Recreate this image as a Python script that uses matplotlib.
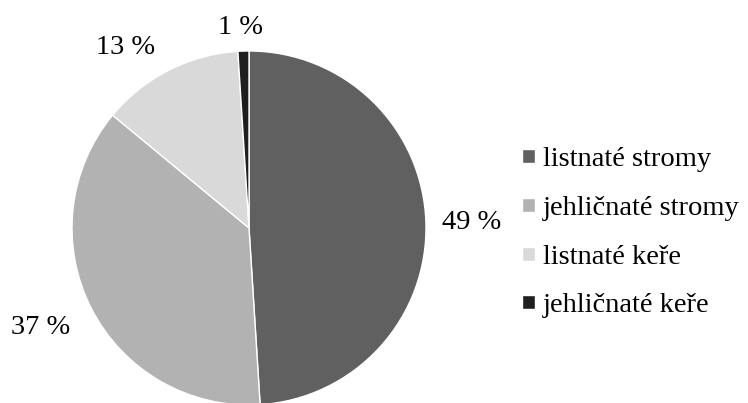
import matplotlib.pyplot as plt

plt.rcParams['font.family'] = ['Liberation Serif', 'DejaVu Serif']

# data
kategorie = ['listnaté stromy', 'jehličnaté stromy', 'listnaté keře', 'jehličnaté keře']
podil = [49, 37, 13, 1]
barvy = ['#606060', '#b2b2b2', '#d9d9d9', '#1f1f1f']
# umístění popisků (v jednotkách poloměru, jako v Excelu "nejlepší přizpůsobení")
pozice_popisku = [(1.26, 0.03), (-1.18, -0.56), (-0.70, 1.02), (-0.05, 1.13)]

fig = plt.figure(figsize=(7.48, 4.03), dpi=100)
R = 177  # poloměr koláče v px
cx, cy = 249, 403 - 228
ax = fig.add_axes([(cx - 1.25 * R) / 748, (cy - 1.25 * R) / 403, 2.5 * R / 748, 2.5 * R / 403])

wedges, texts, autotexts = ax.pie(
    podil, colors=barvy, startangle=90, counterclock=False,
    autopct='%d %%', pctdistance=1.25,
    wedgeprops=dict(edgecolor='white', linewidth=1),
    textprops=dict(fontsize=20.5, color='black'))

for t, p in zip(autotexts, pozice_popisku):
    t.set_position(p)

fig.legend(wedges, kategorie, loc='center left', bbox_to_anchor=(0.671, 0.422),
           frameon=False, fontsize=20.5, handlelength=0.45, handleheight=0.38,
           handletextpad=0.3, labelspacing=0.83, borderpad=0.2)

plt.savefig('out.png', dpi=100)
